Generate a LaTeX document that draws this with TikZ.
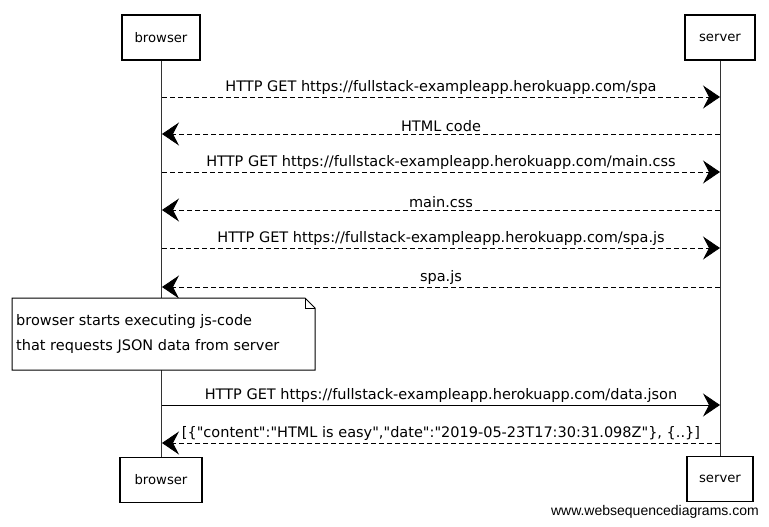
\documentclass[tikz,border=0pt]{standalone}
\usepackage{fontspec}
\setmainfont{DejaVu Sans}[Ligatures=TeXOff]
\newfontfamily\wsdfont{Liberation Sans}
\usetikzlibrary{positioning,arrows.meta}

\begin{document}
\begin{tikzpicture}[x=1pt,y=-1pt,
	actor/.style={draw, line width=1.2pt, minimum width=78pt,
	minimum height=45pt, font=\fontsize{13.2}{15}\selectfont},
	lifeline/.style={line width=0.8pt, black!80},
	msg/.style={line width=0.8pt, -{Stealth[length=17pt,width=23pt,inset=6pt]}},
	reply/.style={msg, dash pattern=on 5pt off 3pt},
	label/.style={above=1pt, font=\fontsize{14.5}{16}\selectfont, inner sep=1pt},
	notebox/.style={align=left, anchor=north west, inner sep=0pt,
	font=\fontsize{14.5}{25}\selectfont}
	]
	\useasboundingbox[fill=white] (0,0) rectangle (769,527);
	% actors
	\node[actor] (browser) at (161,37.5) {browser};
	\node[actor, minimum width=70pt] (server) at (720,37.5) {server};
	\node[actor, minimum width=82pt] (browserend) at (161,480) {browser};
	\node[actor, minimum width=66pt] (serverend) at (720,479) {server};
	\draw[lifeline] (browser) -- (browserend);
	\draw[lifeline] (server) -- (serverend);
	% points on the lifelines
	\foreach \n/\y in {1/97,2/134,3/172,4/210,5/248,6/287,7/405,8/443}{
		\coordinate (b\n) at (162,\y);
		\coordinate (s\n) at (720,\y);
	}
	% messages
	\draw[reply] (b1) to
	node[label] {HTTP GET https://fullstack-exampleapp.herokuapp.com/spa}
	(s1);
	\draw[reply] (s2) to
	node[label] {HTML code}
	(b2);
	\draw[reply] (b3) to
	node[label] {HTTP GET https://fullstack-exampleapp.herokuapp.com/main.css}
	(s3);
	\draw[reply] (s4) to
	node[label] {main.css}
	(b4);
	\draw[reply] (b5) to
	node[label] {HTTP GET https://fullstack-exampleapp.herokuapp.com/spa.js}
	(s5);
	\draw[reply] (s6) to
	node[label] {spa.js}
	(b6);
	% note
	\draw[line width=1pt, fill=white] (12,298) -- (305,298) -- (315,308)
	-- (315,370) -- (12,370) -- cycle;
	\draw[line width=1pt] (305,298) |- (315,308);
	\node[notebox] (note) at (16,314)
	{browser starts executing js-code\\that requests JSON data from server};
	\draw[msg] (b7) to
	node[label] {HTTP GET https://fullstack-exampleapp.herokuapp.com/data.json}
	(s7);
	\draw[reply] (s8) to
	node[label] {[\{"content":"HTML is easy","date":"2019-05-23T17:30:31.098Z"\}, \{..\}]}
	(b8);
	% watermark
	\node[anchor=south east, inner sep=0pt, font=\wsdfont\fontsize{14}{16}\selectfont]
	(credit) at (759,519) {www.websequencediagrams.com};
\end{tikzpicture}
\end{document}
